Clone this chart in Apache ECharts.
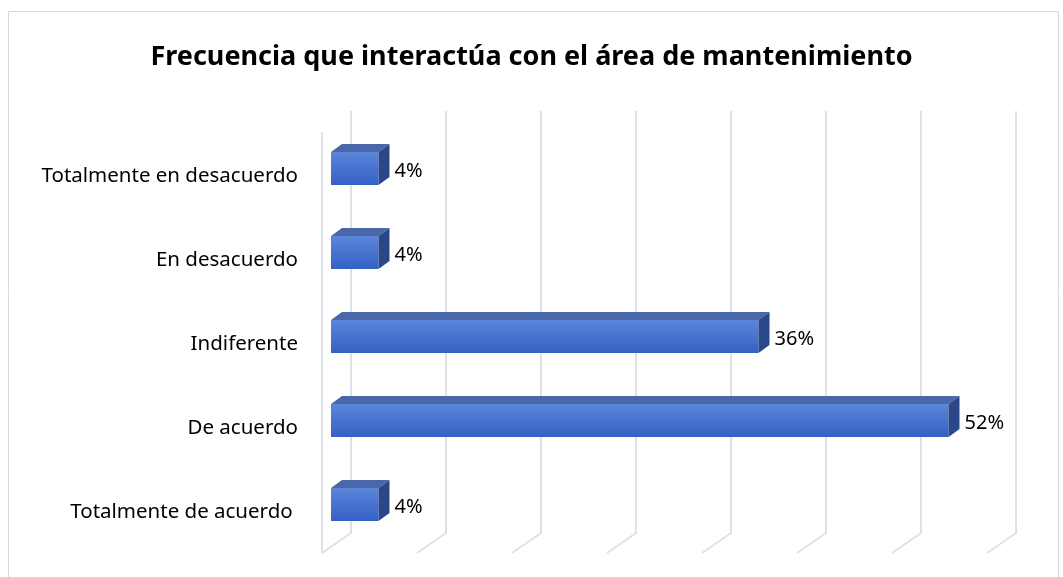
<!DOCTYPE html>
<html>
<head>
<meta charset="utf-8">
<script src="https://cdn.jsdelivr.net/npm/echarts@6/dist/echarts.min.js"></script>
<style>
html,body{margin:0;padding:0;background:#fff;}
#chart{width:1063px;height:577px;}
</style>
</head>
<body>
<div id="chart"></div>
<script>
// ---- data ----
const titleText = 'Frecuencia que interactúa con el área de mantenimiento';
const categories = ['Totalmente en desacuerdo', 'En desacuerdo', 'Indiferente', 'De acuerdo', 'Totalmente de acuerdo '];
const values = [4, 4, 36, 52, 4];
const gridTicks = [0, 8, 16, 24, 32, 40, 48, 56];

const DX = 11, DY = 8;          // bar depth
const WDX = 20, WFX = -9;       // wall offsets (back / front)
const chart = echarts.init(document.getElementById('chart'));

const barData = values.map((v, i) => [v, i]);

function renderBar(params, api) {
  const v = api.value(0);
  const idx = api.value(1);
  const p0 = api.coord([0, idx]);
  const p1 = api.coord([v, idx]);
  const x0 = p0[0], x1 = p1[0];
  const c = p0[1] - 7.5;
  const yt = c - 16.5, yb = c + 16.5;
  return {
    type: 'group',
    children: [
      { type: 'rect', shape: { x: x0, y: yt, width: x1 - x0, height: yb - yt },
        style: { fill: new echarts.graphic.LinearGradient(0, 0, 0, 1, [
          { offset: 0, color: '#5b86db' }, { offset: 1, color: '#3461c3' }]) } },
      { type: 'polygon', shape: { points: [[x0, yt], [x0 + DX, yt - DY], [x1 + DX, yt - DY], [x1, yt]] },
        style: { fill: '#4a67aa' } },
      { type: 'polygon', shape: { points: [[x1, yt], [x1 + DX, yt - DY], [x1 + DX, yb - DY], [x1, yb]] },
        style: { fill: '#2a4888' } },
      { type: 'text', style: { x: x1 + DX + 5, y: c + 3, text: v + '%', fill: '#000',
        font: '20px "Noto Sans"', verticalAlign: 'middle', align: 'left' } }
    ]
  };
}

function renderWall(params, api) {
  const t = api.value(0);
  const cs = params.coordSys;
  const x = api.coord([t, 0])[0];
  const top = cs.y, bot = cs.y + cs.height;
  const st = { stroke: '#dde1ea', lineWidth: 2, fill: null };
  const children = [
    { type: 'polyline', shape: { points: [[x + WDX, top - 23], [x + WDX, bot - 21], [x + WFX, bot - 1]] }, style: st }
  ];
  if (t === 0) {
    children.push({ type: 'line', shape: { x1: x + WFX, y1: top - 2, x2: x + WFX, y2: bot - 1 }, style: st });
  }
  return { type: 'group', children };
}

chart.setOption({
  animation: false,
  title: {
    text: titleText, left: 'center', top: 39,
    textStyle: { fontFamily: 'Noto Sans', fontWeight: 'bold', fontSize: 27, color: '#000' }
  },
  graphic: [{ type: 'rect', shape: { x: 8.5, y: 11.5, width: 1050, height: 620 },
    style: { fill: null, stroke: '#d9d9d9', lineWidth: 1 }, silent: true, z: -10 }],
  grid: { left: 331, right: 67, top: 134, bottom: 23 },
  xAxis: { type: 'value', min: 0, max: 56, interval: 8, show: false },
  yAxis: {
    type: 'category', data: categories, inverse: true,
    axisLine: { show: false }, axisTick: { show: false }, splitLine: { show: false },
    axisLabel: { fontFamily: 'Noto Sans', fontSize: 20.5, color: '#000', margin: 33 }
  },
  series: [
    { type: 'custom', name: 'wall', data: gridTicks.map(t => [t]), renderItem: renderWall,
      encode: { x: 0 }, z: 1, silent: true },
    { type: 'custom', name: 'bars', data: barData, renderItem: renderBar,
      encode: { x: 0, y: 1 }, z: 2 }
  ]
});
</script>
</body>
</html>
